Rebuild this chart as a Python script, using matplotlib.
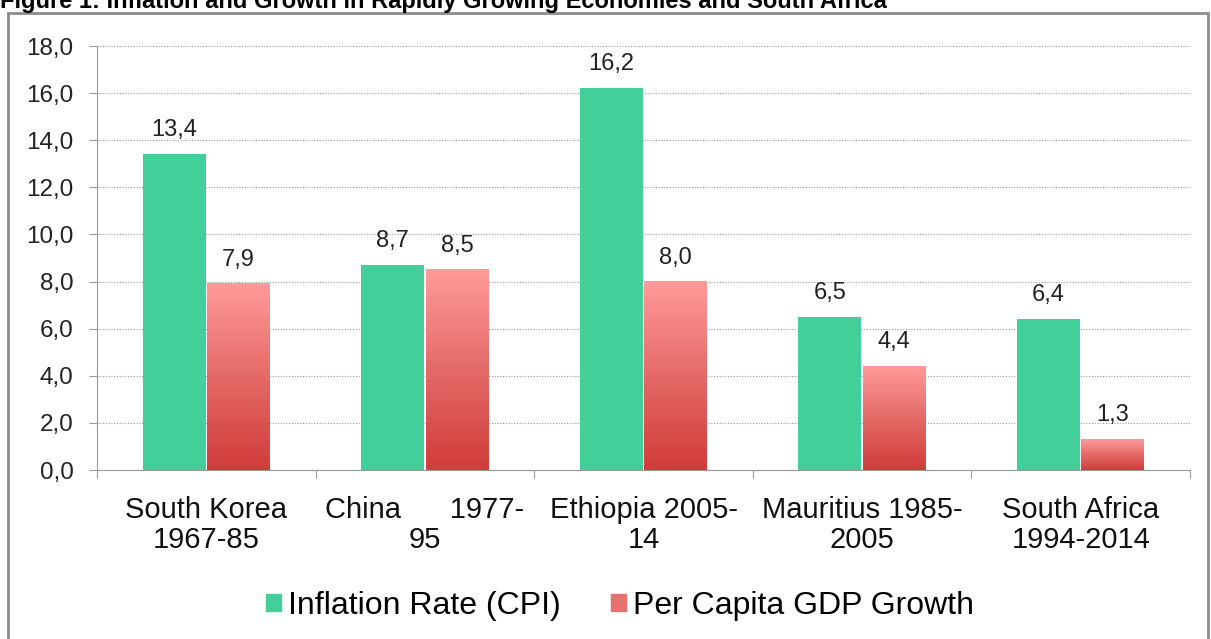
import numpy as np
import matplotlib.pyplot as plt
from matplotlib.patches import Rectangle
from matplotlib.colors import LinearSegmentedColormap

categories = ["South Korea\n1967-85", "China      1977-\n95", "Ethiopia 2005-\n14",
              "Mauritius 1985-\n2005", "South Africa\n1994-2014"]
inflation = [13.4, 8.7, 16.2, 6.5, 6.4]
gdp_growth = [7.9, 8.5, 8.0, 4.4, 1.3]
series_names = ["Inflation Rate (CPI)", "Per Capita GDP Growth"]
title = "Figure 1: Inflation and Growth in Rapidly Growing Economies and South Africa"

green = "#43CF99"
red_cmap = LinearSegmentedColormap.from_list("redgrad", ["#D03C3A", "#E46A68", "#FF9B99"])

plt.rcParams["font.family"] = ["Liberation Sans", "DejaVu Sans"]

fig = plt.figure(figsize=(12.11, 6.39), dpi=100)
W, H = 1211, 639
ax = fig.add_axes([97 / W, 1 - 470 / H, (1190 - 97) / W, (470 - 46) / H])

x = np.arange(len(categories))
bw = 0.288
gap = 0.003

for i, v in enumerate(inflation):
    ax.bar(x[i] - bw / 2 - gap, v, width=bw, color=green, zorder=3)
    ax.text(x[i] - bw / 2 - gap, v + 0.55, f"{v:.1f}".replace(".", ","),
            ha="center", va="bottom", fontsize=17, color="#222222")

grad = np.linspace(0, 1, 256).reshape(-1, 1)
for i, v in enumerate(gdp_growth):
    x0 = x[i] + gap
    ax.imshow(grad, extent=[x0, x0 + bw, 0, v], origin="lower", aspect="auto",
              cmap=red_cmap, zorder=3)
    ax.text(x0 + bw / 2, v + 0.55, f"{v:.1f}".replace(".", ","),
            ha="center", va="bottom", fontsize=17, color="#222222")

ax.set_xlim(-0.5, len(categories) - 0.5)
ax.set_ylim(0, 18)
yt = np.arange(0, 18.1, 2)
ax.set_yticks(yt)
ax.set_yticklabels([f"{t:.1f}".replace(".", ",") for t in yt], fontsize=17.5, color="#222222")
ax.yaxis.grid(True, linestyle=(0, (1, 1.5)), color="#999999", linewidth=0.8, zorder=0)

ax.set_xticks(np.arange(-0.5, len(categories), 1))
ax.set_xticklabels([])
ax.tick_params(axis="x", length=6, color="#999999")
ax.tick_params(axis="y", length=6, color="#999999", pad=11)
for i, lab in enumerate(categories):
    ax.text(x[i], -1.1, lab, ha="center", va="top", fontsize=21, linespacing=1.1,
            color="#111111")

for s in ["top", "right"]:
    ax.spines[s].set_visible(False)
ax.spines["left"].set_color("#999999")
ax.spines["bottom"].set_color("#999999")

handles = [Rectangle((0, 0), 1, 1, color=green), Rectangle((0, 0), 1, 1, color="#E8706E")]
fig.legend(handles, series_names, loc="center", bbox_to_anchor=(620 / W, 1 - 606 / H),
           ncol=2, frameon=False, fontsize=23, handlelength=0.45, handleheight=0.45,
           handletextpad=0.22, columnspacing=1.6)

fig.add_artist(Rectangle((8 / W, -0.05), (1208 - 8) / W, 1.05 - 13 / H, transform=fig.transFigure,
                         fill=False, edgecolor="#8c8c8c", linewidth=2))
fig.text(0.0, 1 - 8 / H, title, fontsize=17, fontweight="bold", va="baseline", ha="left")

fig.savefig("out.png", dpi=100)
